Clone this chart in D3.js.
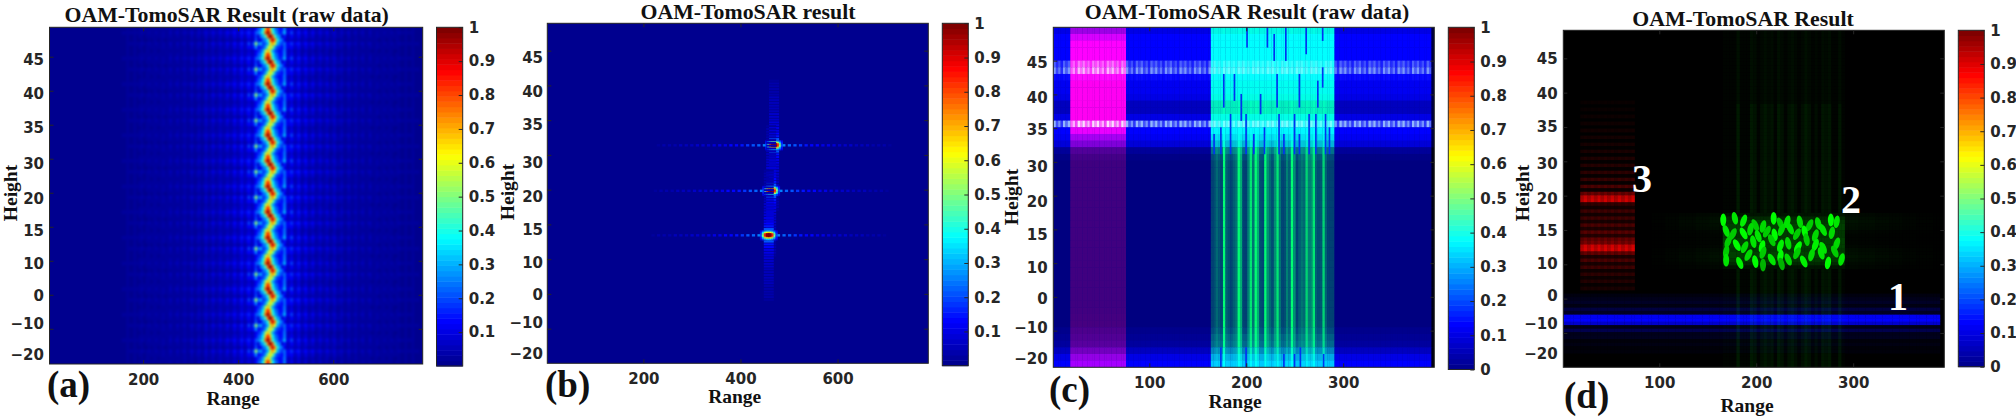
<!DOCTYPE html>
<html>
<head>
<meta charset="utf-8">
<script src="https://cdn.jsdelivr.net/npm/d3@7"></script>
<style>
  html, body { margin: 0; background: #fff; }
  svg { display: block; }
  .tick text { font: bold 15px "DejaVu Sans", sans-serif; fill: #262626; }
  .axis line { stroke: #262626; stroke-width: 1; }
  .serif { font-family: "Liberation Serif", serif; font-weight: bold; fill: #111; }
</style>
</head>
<body>
<svg id="chart" width="2016" height="419"></svg>
<script>
// labels
var titles = ["OAM-TomoSAR Result (raw data)", "OAM-TomoSAR result", "OAM-TomoSAR Result (raw data)", "OAM-TomoSAR Result"];
var panelLetters = ["(a)", "(b)", "(c)", "(d)"];
var heightLabels = [45, 40, 35, 30, 20, 15, 10, 0, -10, -20];
var rowTicks = [100, 200, 300, 400, 500, 600, 700, 800, 900];
var wideTicks = [200, 400, 600];
var narrowTicks = [100, 200, 300];
var colorTicks = [0.1, 0.2, 0.3, 0.4, 0.5, 0.6, 0.7, 0.8, 0.9, 1];

// colormap stops, jet
var jetStops = [0, 0.125, 0.375, 0.625, 0.875, 1];
var jetColors = ["#00008f", "#0000ff", "#00ffff", "#ffff00", "#ff0000", "#800000"];

// panel a: one wiggle of the streak (it repeats all the way up)
var streakCentre = [458, 460, 464, 468, 470, 467, 462];
var streakPeak = [0.85, 0.98, 1, 0.92, 0.72, 0.64, 0.68];
var mainLobe = [1, 0.8, 0.44, 0.3, 0.24];
var leftGain = [0.8, 0.8, 1, 1.6, 2, 1.5, 0.9];
var rightGain = [1.7, 1.2, 0.8, 0.8, 0.9, 1.3, 1.9];
var sideEnvelope = [0.26, 0.19, 0.15, 0.13, 0.11, 0.1, 0.09, 0.08, 0.07, 0.06, 0.05, 0.045, 0.04, 0.035, 0.03, 0.03, 0.025, 0.02, 0.02];
var sideRipple = [1, 0.45, 0.55];
var rowRipple = [0.6, 1, 0.7, 0.5, 1, 0.7, 0.5];

// panel b: three point targets
var targetRanges = [469, 463, 458];
var targetRows = [372, 503, 631];
var blobKernel = [
  [0.10, 0.18, 0.25, 0.30, 0.32, 0.30, 0.25, 0.18, 0.10],
  [0.14, 0.34, 0.52, 0.62, 0.66, 0.62, 0.52, 0.34, 0.14],
  [0.18, 0.46, 0.78, 0.95, 1.00, 0.95, 0.78, 0.46, 0.18],
  [0.20, 0.50, 0.85, 1.00, 1.00, 1.00, 0.85, 0.50, 0.20],
  [0.18, 0.46, 0.78, 0.95, 1.00, 0.95, 0.78, 0.46, 0.18],
  [0.14, 0.34, 0.52, 0.62, 0.66, 0.62, 0.52, 0.34, 0.14],
  [0.10, 0.18, 0.25, 0.30, 0.32, 0.30, 0.25, 0.18, 0.10]
];
var rangeLobes = [0.26, 0.23, 0.2, 0.17, 0.15, 0.13, 0.12, 0.1, 0.09, 0.08, 0.07, 0.06, 0.06, 0.05, 0.045, 0.04, 0.035, 0.03, 0.025, 0.02];
var heightLobes = [0.2, 0.14, 0.12, 0.1, 0.09, 0.08, 0.075, 0.07, 0.065, 0.06, 0.055, 0.05, 0.05, 0.045, 0.04, 0.04, 0.035, 0.03, 0.03, 0.025, 0.025, 0.02];

// panel c: one value per row band (51 rows, top to bottom) in 0..1 channel levels
var cBlue = [0.9, 1, 1, 1, 1, 1, 1, 1, 0.95, 0.95, 0.9, 0.75, 0.75, 0.9, 1, 1, 0.95, 0.85, 0.6, 0.53,
  0.5, 0.5, 0.5, 0.5, 0.5, 0.5, 0.5, 0.5, 0.5, 0.5, 0.5, 0.5, 0.5, 0.5, 0.5, 0.5, 0.5, 0.5, 0.5, 0.5,
  0.5, 0.5, 0.5, 0.5, 0.5, 0.55, 0.58, 0.62, 0.75, 0.9, 1];
var cRed = [0.62, 0.85, 1, 1, 1, 1, 1, 1, 1, 1, 1, 1, 1, 1, 1, 0.92, 0.65, 0.5, 0.32, 0.27,
  0.25, 0.25, 0.25, 0.25, 0.25, 0.25, 0.25, 0.25, 0.25, 0.25, 0.25, 0.25, 0.25, 0.25, 0.25, 0.25, 0.25, 0.25, 0.25, 0.25,
  0.25, 0.25, 0.26, 0.27, 0.28, 0.3, 0.32, 0.35, 0.45, 0.58, 0.65];
var cBand = [0, 0, 0, 0, 0, 0.5, 0.8, 0.06, 0, 0, 0, 0, 0, 0, 0.95, 0, 0, 0, 0, 0,
  0, 0, 0, 0, 0, 0, 0, 0, 0, 0, 0, 0, 0, 0, 0, 0, 0, 0, 0, 0,
  0, 0, 0, 0, 0, 0, 0, 0, 0, 0, 0];
var cFill = [0.95, 1, 1, 1, 1, 1, 1, 1, 1, 1, 1, 0.9, 0.9, 1, 1, 0.95, 0.8, 0.6, 0.25, 0.05,
  0, 0, 0, 0, 0, 0, 0, 0, 0, 0, 0, 0, 0, 0, 0, 0, 0, 0, 0, 0,
  0, 0, 0, 0, 0, 0.05, 0.15, 0.2, 0.35, 0.55, 0.7];
var cStripes = [0.2, 0.3, 0.45, 0.35, 0.25, 0.95, 0.4, 0.3, 0.25, 0.4, 0.5, 0.9, 0.7, 0.2, 0.15, 0.55, 0.85, 0.5, 0.9, 0.7,
  0.3, 0.25, 0.9, 0.6, 0.45, 0.3, 0.6, 0.85, 0.5, 0.25, 0.3, 0.55, 0.4, 0.95, 0.6, 0.2, 0.4, 0.5, 0.45, 0.8,
  0.55, 0.6, 0.85, 0.4, 0.3, 0.35, 0.8, 0.4, 0.2];
var cBandRipple = [1, 0.45, 0.8, 0.3, 1, 0.6];
// thin dark lines cutting the cyan block: range, first row, last row
var notchRanges = [200, 176, 187, 228, 254, 278, 278, 261, 240, 231, 273, 221, 214, 194, 166, 173, 183, 199, 207, 218, 233, 238, 249, 254, 264, 271, 281, 285, 199, 173, 238, 249, 255, 279];
var notchFirst = [0, 7, 7, 1, 7, 0, 6, 0, 0, 7, 8, 0, 10, 10, 16, 15, 13, 13, 16, 15, 13, 16, 13, 16, 13, 13, 13, 15, 48, 48, 49, 49, 48, 49];
var notchLast = [2, 11, 10, 4, 11, 1, 8, 3, 4, 11, 11, 2, 12, 13, 18, 18, 18, 18, 18, 18, 18, 18, 18, 18, 18, 18, 18, 18, 50, 50, 50, 50, 50, 50];

// panel d: layers by row (96 rows), start index then levels
var dRedStart = 20;
var dRed = [0.04, 0, 0.04, 0, 0.05, 0, 0.06, 0, 0.07, 0,
  0.08, 0.01, 0.09, 0.01, 0.1, 0.01, 0.12, 0.02, 0.15, 0.02,
  0.18, 0.03, 0.22, 0.03, 0.3, 0.05, 0.42,
  0.78, 0.82,
  0.2, 0.08, 0.25, 0.08, 0.25, 0.1, 0.3, 0.12, 0.35, 0.15, 0.4, 0.48,
  0.82, 0.85,
  0.4, 0.12, 0.3, 0.1, 0.25, 0.06, 0.18, 0.05, 0.14, 0.03, 0.1];
var dRedGrain = [1, 0.82];
var dBlueStart = 75;
var dBlue = [0.06, 0.1, 0.15, 0.08, 0.25, 0.15, 0.95, 1, 0.8, 0.1, 0.3, 0.1, 0.12, 0.04, 0.07, 0.03, 0.04];
var dGreenStart = 52;
var dGreenHalo = [0.04, 0.06, 0.07, 0.06, 0.05, 0.03, 0.02, 0.02, 0.02, 0.03, 0.05, 0.06, 0.07, 0.06, 0.04, 0.03];
var dGreenBase = [0.08, 0.16, 0.22, 0.25, 0.25, 0.22, 0.22, 0.25, 0.25, 0.25, 0.22, 0.25, 0.25, 0.22, 0.16, 0.08];
var dGreenFalloffLeft = [0, 0.15, 0.3, 0.5, 0.7, 0.9, 1];
var dGreenFalloffRight = [1, 0.8, 0.6, 0.45, 0.3, 0.2, 0.1, 0];
// green speckles of the central block: range, row position, brightness, lean
var speckRanges = [166, 178, 187, 199, 207, 218, 225, 232, 245, 255, 264, 277, 283,
  169, 176, 187, 194, 202, 211, 219, 226, 235, 242, 250, 261, 269, 278,
  171, 180, 188, 197, 206, 216, 225, 233, 243, 252, 261, 269, 283,
  169, 169, 183, 192, 199, 207, 216, 225, 233, 242, 249, 257, 267, 274, 281, 288, 207, 226];
var speckRows = [571, 566, 573, 586, 590, 566, 581, 576, 576, 586, 581, 571, 576,
  603, 612, 610, 598, 618, 605, 614, 600, 596, 612, 605, 616, 600, 608,
  634, 644, 650, 634, 648, 630, 646, 639, 650, 628, 644, 652, 640,
  663, 688, 696, 673, 692, 666, 686, 676, 686, 668, 692, 673, 668, 696, 663, 686, 702, 699];
var speckLevels = [1, 0.9, 0.95, 0.8, 0.85, 1, 0.8, 0.9, 0.85, 0.8, 0.85, 1, 0.9,
  0.9, 0.8, 1, 0.85, 0.9, 0.8, 1, 0.85, 0.9, 0.8, 1, 0.85, 0.9, 0.85,
  0.8, 1, 0.85, 0.9, 1, 0.8, 0.95, 0.85, 1, 0.8, 0.95, 0.9, 0.85,
  0.8, 0.9, 0.95, 0.85, 1, 0.8, 0.9, 1, 0.85, 0.8, 0.95, 0.85, 0.9, 1, 0.8, 0.9, 0.7, 0.7];
var speckLean = [0, -12, 20, -25, 15, 0, -25, 15, -10, 25, -15, 0, 10,
  -20, 25, -28, 12, -18, 28, -10, 22, -25, 28, -12, 18, -25, 10,
  22, -28, 25, -12, 15, -25, 18, -12, 28, -10, 20, -25, 18,
  10, 0, -22, 28, -10, 18, -28, 10, -22, 25, -25, 15, -18, 10, -25, 15, 0, -15];

var panels = [
  { plot: [49.5, 27.3, 422.7, 364], bar: [436.5, 27.3, 462.7, 366], xDomain: [3, 788], xTicks: wideTicks, rowDomain: [13.5, 1003.5],
    labelY: [59.3, 94, 127.3, 164, 199, 230.7, 264, 296, 324, 355], labelX: 44,
    title: [226.7, 21.7], letter: [47, 397], range: [233, 405], heightAt: [12, 193], blur: 0.8, bg: "#00008f" },
  { plot: [547.3, 23.3, 928.3, 363.3], bar: [942.3, 23.3, 968.3, 365.7], xDomain: [2, 787], xTicks: wideTicks, rowDomain: [21.3, 999.7],
    labelY: [57.3, 91.7, 125, 162.3, 196.7, 229.3, 262.3, 294.3, 322.3, 353.3], labelX: 543,
    title: [748, 19], letter: [545, 397], range: [734.7, 403], heightAt: [509, 192], blur: 0.35, bg: "#00008f" },
  { plot: [1053.3, 27.3, 1434.3, 367.3], bar: [1448.3, 27.3, 1474.3, 369.5], xDomain: [1, 394], xTicks: narrowTicks, rowDomain: [1.2, 1008.6],
    labelY: [62.3, 97.3, 130, 166.7, 201.7, 234.3, 267.3, 299, 327.3, 358.3], labelX: 1047.7,
    title: [1247, 18.5], letter: [1049, 402], range: [1235, 408], heightAt: [1013, 197], blur: 0.35, bg: "#000080" },
  { plot: [1563.3, 30.3, 1944.3, 367.3], bar: [1958.3, 30.3, 1984.3, 366.7], xDomain: [1, 394], xTicks: narrowTicks, rowDomain: [18.4, 1000],
    labelY: [59, 93.3, 126.7, 163.3, 198.3, 230.7, 263.3, 295.7, 323.3, 354], labelX: 1557.7,
    title: [1743, 25.7], letter: [1564, 408], range: [1747, 412], heightAt: [1524, 193], blur: 0.6, bg: "#000000" }
];

var jetScale = d3.scaleLinear().domain(jetStops).range(jetColors).clamp(true);
var jet = function(v) { return jetScale(Math.round(v * 63) / 63); };
var channel = function(r, g, b) {
  return d3.rgb(255 * Math.min(r, 1), 255 * Math.min(g, 1), 255 * Math.min(b, 1)).formatRgb();
};

var svg = d3.select("#chart");
var defs = svg.append("defs");

// ---- cells of each panel, all placed with the panel's own scales
var cellsA = function(x, rowBand, n) {
  var cells = [];
  d3.range(n).forEach(function(r) {
    var p = r % streakCentre.length;
    d3.range(50, 790, 5).forEach(function(c) {
      var dist = c - streakCentre[p];
      var k = Math.abs(Math.round(dist / 5));
      var v;
      if (k < mainLobe.length) {
        v = mainLobe[k] * streakPeak[p];
      } else {
        var env = sideEnvelope[Math.floor((k - mainLobe.length) / 3)];
        if (env === undefined) return;
        var gain = dist < 0 ? leftGain[p] : rightGain[p];
        // fixed columns, the ripple does not follow the wiggle
        v = env * sideRipple[Math.floor(c / 5) % 3] * rowRipple[p] * (k < 9 ? gain : 1);
      }
      cells.push({ x: x(c), y: rowBand(r), w: x(c + 5) - x(c), h: rowBand.bandwidth(), fill: jet(v) });
    });
  });
  return cells;
};

var cellsB = function(x, row) {
  var cells = [];
  var add = function(c0, c1, r0, r1, v) {
    cells.push({ x: x(c0), y: row(r0), w: x(c1) - x(c0), h: row(r1) - row(r0), fill: jet(v) });
  };
  targetRanges.forEach(function(tr, t) {
    var ty = targetRows[t];
    rangeLobes.forEach(function(v, k) {
      [-1, 1].forEach(function(s) {
        var c = tr + s * (20 + k * 11.5);
        add(c - 3, c + 3, ty - 3, ty + 3, v);
      });
    });
    heightLobes.forEach(function(v, k) {
      [-1, 1].forEach(function(s) {
        var m = ty + s * (18 + k * 8);
        add(tr - 10, tr + 10, m - 2.5, m + 2.5, v);
      });
    });
    blobKernel.forEach(function(line, i) {
      line.forEach(function(v, j) {
        var c = tr + (j - 4) * 4, m = ty + (i - 3) * 4;
        add(c - 2, c + 2, m - 2, m + 2, v);
      });
    });
  });
  return cells;
};

var cellsC = function(x, rowBand) {
  var cells = [];
  var step = 2.5;
  cBlue.forEach(function(blue, r) {
    d3.range(1, 394, step).forEach(function(c) {
      var col, band = cBand[r] * cBandRipple[Math.floor(c / step) % cBandRipple.length];
      if (c >= 389.5) {
        col = channel(0, 0, r < 18 ? 0.25 : 0.08);
      } else if (c >= 163 && c < 290) {
        var s = cStripes[Math.min(Math.floor((c - 163) / step), cStripes.length - 1)];
        var fill = cFill[r];
        var g = (s * s * 0.95 + 0.22) * (1 - fill) + fill;
        col = channel(band * 0.5, g + band * 0.15, blue * (fill > 0.3 ? 1 : 0.9));
      } else if (c >= 17 && c < 75) {
        col = channel(cRed[r], band * 0.9, Math.max(blue, cRed[r] * 0.95));
      } else {
        col = channel(band * 0.6, band * 0.75, blue);
      }
      cells.push({ x: x(c), y: rowBand(r), w: x(c + step) - x(c), h: rowBand.bandwidth(), fill: col });
    });
  });
  notchRanges.forEach(function(c, n) {
    d3.range(notchFirst[n], notchLast[n] + 1).forEach(function(r) {
      cells.push({ x: x(c), y: rowBand(r), w: x(c + 1.4) - x(c), h: rowBand.bandwidth(), fill: channel(0, 0.2, 0.95) });
    });
  });
  return cells;
};

var cellsD = function(x, rowBand) {
  var cells = [];
  var step = 3.5;
  var redLevel = function(r) { return dRed[r - dRedStart] || 0; };
  var blueLevel = function(r) { return dBlue[r - dBlueStart] || 0; };
  var haloLevel = function(r) { return dGreenHalo[r - dGreenStart] || 0; };
  d3.range(96).forEach(function(r) {
    d3.range(1, 394, step).forEach(function(c) {
      var i = Math.floor(c / step);
      var red = c >= 17.5 && c < 74 ? redLevel(r) * dRedGrain[i % 2] : 0;
      var blue = c < 388 ? blueLevel(r) : 0;
      var green = 0;
      if (c >= 165 && c < 290) {
        var base = dGreenBase[r - dGreenStart];
        if (base !== undefined) {
          green = base;
        } else {
          // faint columns running above and below the block
          var s = cStripes[Math.floor((c - 165) / 2.56)] || 0;
          green = s > 0.45 ? (r > 20 ? 0.09 : 0.05) * s * 1.2 : 0.015;
        }
      } else if (c >= 75 && c < 165) {
        green = haloLevel(r) * dGreenFalloffLeft[Math.floor((c - 75) / 15)];
      } else if (c >= 290) {
        green = haloLevel(r) * (dGreenFalloffRight[Math.floor((c - 290) / 15)] || 0);
      }
      if (red + green + blue > 0) {
        cells.push({ x: x(c), y: rowBand(r), w: x(c + step) - x(c), h: rowBand.bandwidth(), fill: channel(red, green, blue) });
      }
    });
  });
  return cells;
};

// ---- one panel
panels.forEach(function(p, i) {
  var left = p.plot[0], top = p.plot[1], right = p.plot[2], bottom = p.plot[3];
  var x = d3.scaleLinear().domain(p.xDomain).range([left, right]);
  var row = d3.scaleLinear().domain(p.rowDomain).range([top, bottom]);
  var heightPos = d3.scaleLinear().domain(heightLabels).range(p.labelY);
  var g = svg.append("g");

  defs.append("clipPath").attr("id", "clip" + i)
    .append("rect").attr("x", left).attr("y", top).attr("width", right - left).attr("height", bottom - top);
  defs.append("filter").attr("id", "soft" + i).attr("x", "-2%").attr("y", "-2%").attr("width", "104%").attr("height", "104%")
    .attr("color-interpolation-filters", "sRGB")
    .append("feGaussianBlur").attr("stdDeviation", p.blur);

  var cells;
  if (i === 0) cells = cellsA(x, d3.scaleBand().domain(d3.range(92)).range([top, bottom]), 92);
  if (i === 1) cells = cellsB(x, row);
  if (i === 2) cells = cellsC(x, d3.scaleBand().domain(d3.range(cBlue.length)).range([top, bottom]));
  if (i === 3) cells = cellsD(x, d3.scaleBand().domain(d3.range(96)).range([top, bottom]));

  var image = g.append("g").attr("clip-path", "url(#clip" + i + ")")
    .append("g").attr("filter", "url(#soft" + i + ")");
  image.append("rect").attr("x", left - 5).attr("y", top - 5).attr("width", right - left + 10).attr("height", bottom - top + 10).attr("fill", p.bg);
  image.selectAll("rect.cell").data(cells).join("rect").attr("class", "cell")
    .attr("x", function(d) { return d.x; }).attr("y", function(d) { return d.y; })
    .attr("width", function(d) { return d.w + 0.3; }).attr("height", function(d) { return d.h + 0.3; })
    .attr("fill", function(d) { return d.fill; });

  if (i === 3) {
    image.selectAll("ellipse").data(speckRanges).join("ellipse")
      .attr("rx", 3).attr("ry", 6.4)
      .attr("transform", function(d, n) { return "translate(" + x(d) + "," + row(speckRows[n]) + ") rotate(" + speckLean[n] + ")"; })
      .attr("fill", function(d, n) { return channel(0, speckLevels[n], 0); });
  }

  // inward ticks on all four sides, no labels on the row ticks
  var blank = function() { return ""; };
  var axisStyle = function(sel) { sel.attr("class", "axis"); sel.select(".domain").remove(); };
  g.append("g").attr("transform", "translate(0," + bottom + ")")
    .call(d3.axisBottom(x).tickValues(p.xTicks).tickSize(-4).tickPadding(10)).call(axisStyle)
    .selectAll("text").attr("font-size", 15);
  g.append("g").attr("transform", "translate(0," + top + ")")
    .call(d3.axisTop(x).tickValues(p.xTicks).tickSize(-4).tickFormat(blank)).call(axisStyle);
  g.append("g").attr("transform", "translate(" + left + ",0)")
    .call(d3.axisLeft(row).tickValues(rowTicks).tickSize(-4).tickFormat(blank)).call(axisStyle);
  g.append("g").attr("transform", "translate(" + right + ",0)")
    .call(d3.axisRight(row).tickValues(rowTicks).tickSize(-4).tickFormat(blank)).call(axisStyle);
  // the height labels were set by hand in the original and do not sit on the ticks
  g.append("g").attr("transform", "translate(" + p.labelX + ",0)")
    .call(d3.axisLeft(heightPos).tickValues(heightLabels).tickSize(0).tickPadding(0)).call(axisStyle);

  g.append("rect").attr("x", left).attr("y", top).attr("width", right - left).attr("height", bottom - top)
    .attr("fill", "none").attr("stroke", "#262626").attr("stroke-width", 1);

  // colorbar
  var barY = d3.scaleLinear().domain([0, 1]).range([p.bar[3], p.bar[1]]);
  var levels = d3.range(64);
  g.append("g").selectAll("rect").data(levels).join("rect")
    .attr("x", p.bar[0]).attr("width", p.bar[2] - p.bar[0])
    .attr("y", function(d) { return barY((d + 1) / 64); })
    .attr("height", function(d) { return barY(d / 64) - barY((d + 1) / 64) + 0.5; })
    .attr("fill", function(d) { return jetScale(d / 63); });
  g.append("rect").attr("x", p.bar[0]).attr("y", p.bar[1]).attr("width", p.bar[2] - p.bar[0]).attr("height", p.bar[3] - p.bar[1])
    .attr("fill", "none").attr("stroke", "#262626").attr("stroke-width", 1);
  var barTicks = i < 2 ? colorTicks : [0].concat(colorTicks);
  g.append("g").attr("transform", "translate(" + p.bar[2] + ",0)")
    .call(d3.axisRight(barY).tickValues(barTicks).tickSize(-4).tickPadding(6).tickFormat(d3.format("~g"))).call(axisStyle);

  // titles and captions
  g.append("text").attr("class", "serif").attr("x", p.title[0]).attr("y", p.title[1]).attr("text-anchor", "middle").attr("font-size", 21.8).text(titles[i]);
  g.append("text").attr("class", "serif").attr("x", p.letter[0]).attr("y", p.letter[1]).attr("font-size", 37).text(panelLetters[i]);
  g.append("text").attr("class", "serif").attr("x", p.range[0]).attr("y", p.range[1]).attr("text-anchor", "middle").attr("font-size", 19.5).text("Range");
  g.append("text").attr("class", "serif").attr("text-anchor", "middle").attr("font-size", 19.5)
    .attr("transform", "translate(" + (p.heightAt[0] + 5) + "," + p.heightAt[1] + ") rotate(-90)").text("Height");
});

// region numbers in panel d
var regionNames = ["1", "2", "3"];
var regionX = [1898, 1851, 1642];
var regionY = [310, 212.7, 192];
svg.append("g").selectAll("text").data(regionNames).join("text")
  .attr("x", function(d, i) { return regionX[i]; }).attr("y", function(d, i) { return regionY[i]; })
  .attr("text-anchor", "middle").attr("font-family", "Liberation Serif, serif").attr("font-weight", "bold")
  .attr("font-size", 40).attr("fill", "#fff").text(function(d) { return d; });
</script>
</body>
</html>
